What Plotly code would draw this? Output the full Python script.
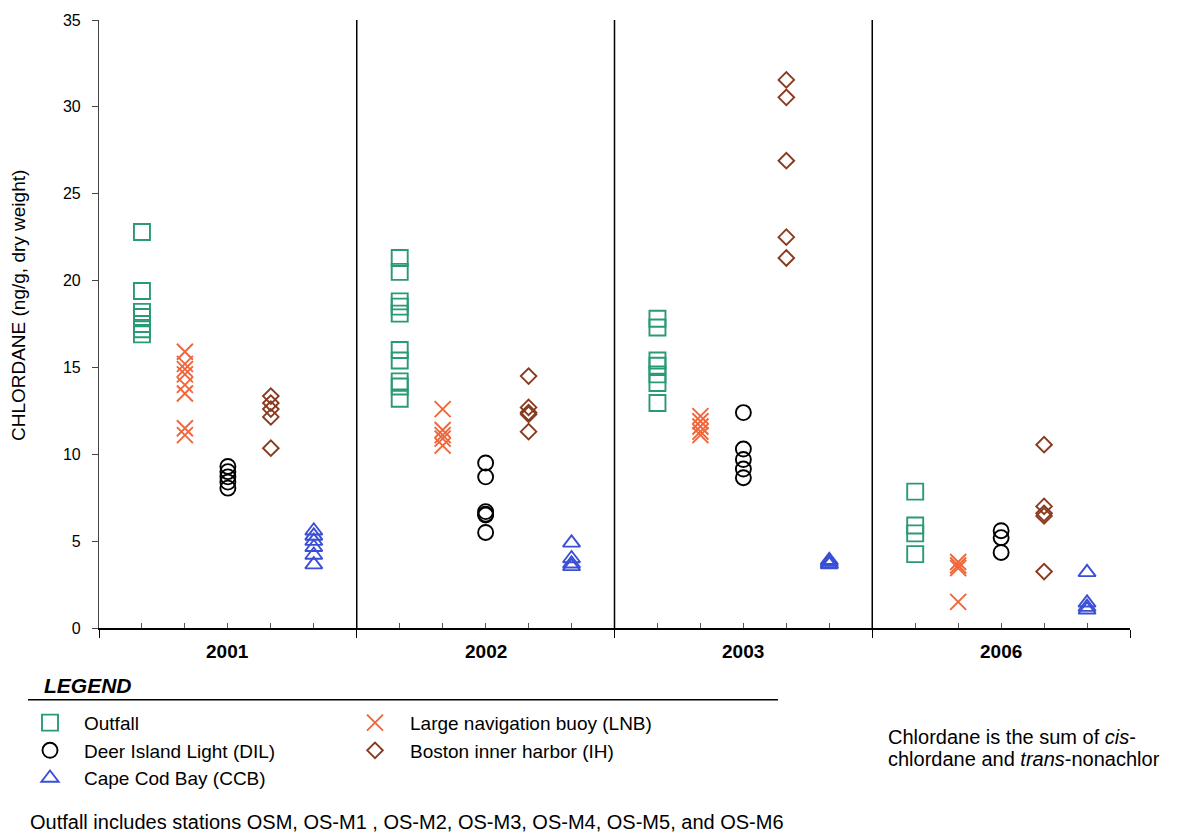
import plotly.graph_objects as go

years = ["2001", "2002", "2003", "2006"]
stations = ["Outfall", "Large navigation buoy (LNB)", "Deer Island Light (DIL)",
            "Boston inner harbor (IH)", "Cape Cod Bay (CCB)"]

outfall = [
    [22.8, 19.4, 18.2, 17.9, 17.5, 17.2, 16.9],
    [21.3, 20.5, 18.8, 18.5, 18.1, 16.0, 15.4, 14.2, 13.9, 13.2],
    [17.8, 17.3, 15.4, 15.1, 14.6, 14.1, 12.95],
    [7.85, 5.9, 5.45, 4.25],
]
lnb = [
    [15.9, 15.2, 14.9, 14.6, 14.0, 13.5, 11.5, 11.1],
    [12.6, 11.4, 11.1, 10.9, 10.5],
    [12.2, 11.9, 11.6, 11.3, 11.1],
    [3.8, 3.6, 3.45, 1.5],
]
dil = [
    [9.3, 9.0, 8.7, 8.4, 8.05],
    [9.5, 8.7, 6.7, 6.55, 6.5, 5.5],
    [12.4, 10.3, 9.7, 9.15, 8.65],
    [5.6, 5.2, 4.35],
]
ih = [
    [13.35, 12.95, 12.6, 12.15, 10.35],
    [14.5, 12.7, 12.4, 12.3, 11.3],
    [31.55, 30.55, 26.9, 22.5, 21.3],
    [10.55, 7.0, 6.6, 6.45, 3.25],
]
ccb = [
    [5.6, 5.3, 5.0, 4.65, 4.2, 3.65],
    [4.9, 4.0, 3.7, 3.55],
    [3.9, 3.8, 3.7, 3.65],
    [3.2, 1.45, 1.2, 1.05],
]

series = [outfall, lnb, dil, ih, ccb]
symbols = ["square-open", "x-thin-open", "circle-open", "diamond-open", "triangle-up-open"]
colors = ["#2a9a73", "#f0663a", "#000000", "#8a3a1f", "#3b4fd4"]
sizes = [16, 16, 15, 12, 15]
slot = [1, 2, 3, 4, 5]
legend_of = ["legend", "legend2", "legend", "legend2", "legend"]

FONT = "Arial, Liberation Sans, sans-serif"

fig = go.Figure()
order = [0, 2, 4, 1, 3]
for k in order:
    xs, ys = [], []
    for g, vals in enumerate(series[k]):
        for v in vals:
            xs.append(g * 6 + slot[k])
            ys.append(v)
    fig.add_trace(go.Scatter(
        x=xs, y=ys, mode="markers", name=stations[k],
        marker=dict(symbol=symbols[k], size=sizes[k], color=colors[k],
                    line=dict(width=1.9, color=colors[k])),
        legend=legend_of[k], showlegend=True,
    ))

for g in range(1, len(years)):
    fig.add_shape(type="line", xref="x", yref="y", x0=g * 6, x1=g * 6, y0=0, y1=35,
                  line=dict(color="black", width=1.5))

for g, yr in enumerate(years):
    fig.add_annotation(x=g * 6 + 3, y=0, xref="x", yref="y", yshift=-23,
                       text="<b>%s</b>" % yr, showarrow=False,
                       font=dict(family=FONT, size=19, color="black"))

W, H = 1181, 840
L, R, T, B = 99, 51, 18, 212
pw, ph = W - L - R, H - T - B


def px(xp):
    return (xp - L) / pw


def py(yp):
    return (H - B - yp) / ph


fig.add_annotation(x=px(18), y=py(305), xref="paper", yref="paper", textangle=-90,
                   text="CHLORDANE (ng/g, dry weight)", showarrow=False,
                   xanchor="center", yanchor="middle",
                   font=dict(family=FONT, size=19, color="black"))

fig.add_annotation(x=px(42), y=py(686), xref="paper", yref="paper", xanchor="left",
                   yanchor="middle", text="<b><i>LEGEND</i></b>", showarrow=False,
                   font=dict(family=FONT, size=21, color="black"))
fig.add_shape(type="line", xref="paper", yref="paper", x0=px(28), x1=px(778),
              y0=py(700), y1=py(700), line=dict(color="black", width=1.5))

fig.add_annotation(x=px(886), y=py(737), xref="paper", yref="paper", xanchor="left",
                   yanchor="middle", align="left",
                   text="Chlordane is the sum of <i>cis</i>-",
                   showarrow=False, font=dict(family=FONT, size=20, color="black"))
fig.add_annotation(x=px(886), y=py(759), xref="paper", yref="paper", xanchor="left",
                   yanchor="middle", align="left",
                   text="chlordane and <i>trans</i>-nonachlor",
                   showarrow=False, font=dict(family=FONT, size=20, color="black"))
fig.add_annotation(x=px(28), y=py(823), xref="paper", yref="paper", xanchor="left",
                   yanchor="middle", align="left",
                   text="Outfall includes stations OSM, OS-M1 , OS-M2, OS-M3, OS-M4, OS-M5, and OS-M6",
                   showarrow=False, font=dict(family=FONT, size=20, color="black"))

fig.update_layout(
    width=W, height=H,
    margin=dict(l=L, r=R, t=T, b=B),
    plot_bgcolor="white", paper_bgcolor="white",
    font=dict(family=FONT, size=16, color="black"),
    xaxis=dict(range=[0, 24], showgrid=False, zeroline=False, showline=True,
               linecolor="black", linewidth=1.5, showticklabels=False,
               tickvals=[0, 6, 12, 18, 24], ticks="outside", ticklen=8,
               tickcolor="black", tickwidth=1.2,
               minor=dict(tickvals=[g * 6 + s for g in range(4) for s in slot],
                          ticks="inside", ticklen=5, tickcolor="#555555", tickwidth=1)),
    yaxis=dict(range=[0, 35], tickvals=list(range(0, 36, 5)), showgrid=False,
               zeroline=False, showline=True, linecolor="#444444", linewidth=1.2,
               ticks="outside", ticklen=6, tickcolor="#444444", ticklabelstandoff=8,
               tickfont=dict(family=FONT, size=16, color="black")),
    legend=dict(x=px(16), y=py(704), xanchor="left", yanchor="top",
                font=dict(family=FONT, size=19, color="black"),
                bgcolor="rgba(0,0,0,0)", itemwidth=58, tracegroupgap=0),
    legend2=dict(x=px(340), y=py(704), xanchor="left", yanchor="top",
                 font=dict(family=FONT, size=19, color="black"),
                 bgcolor="rgba(0,0,0,0)", itemwidth=60, tracegroupgap=0),
)

fig.write_html("out.html")
